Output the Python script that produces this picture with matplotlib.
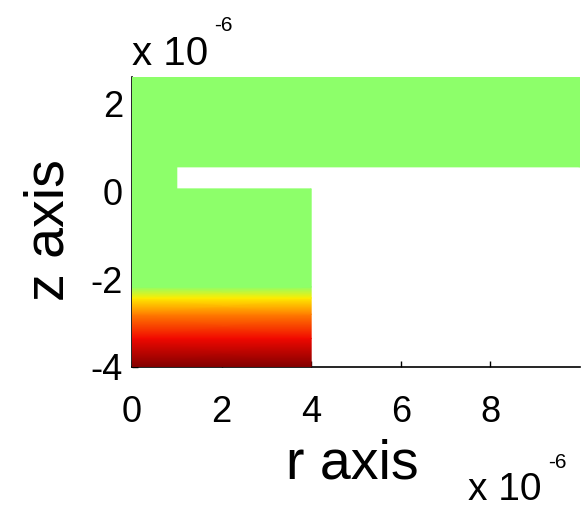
import numpy as np
import matplotlib
matplotlib.use("Agg")
import matplotlib.pyplot as plt

plt.rcParams['font.family'] = ['Liberation Sans', 'DejaVu Sans']

# ---- data (lengths in micrometres, i.e. x 10^-6 m) ----
# temperature-like profile along z in the lower block (normalised colour value)
z_profile = [-4.0, -3.35, -2.8, -2.43, -2.18, 0.05]
t_profile = [1.0, 0.9, 0.775, 0.66, 0.52, 0.52]
t_ambient = 0.52

# geometry of the domain
lower_block_r = [0.0, 4.0]        # r-extent of lower block
lower_block_z = [-4.0, 0.05]
column_r = [0.0, 1.0]             # thin column joining block and top band
column_z = [0.05, 0.55]
top_band_r = [0.0, 10.0]
top_band_z = [0.55, 2.6]

x_ticks = [0, 2, 4, 6, 8]
y_ticks = [-4, -2, 0, 2]

# ---- figure ----
W, H = 582, 513
fig = plt.figure(figsize=(W / 100, H / 100), dpi=100)
ax = fig.add_axes([132 / W, 146 / H, (580 - 132) / W, (367 - 76.7) / H])

cmap = plt.get_cmap('jet')
norm = plt.Normalize(0, 1)

# lower block with vertical gradient
R, Z = np.meshgrid(lower_block_r, z_profile)
T = np.tile(np.array(t_profile)[:, None], (1, len(lower_block_r)))
ax.pcolormesh(R, Z, T, shading='gouraud', cmap=cmap, norm=norm, zorder=3)

# column and top band (uniform)
for rr, zz in [(column_r, column_z), (top_band_r, top_band_z)]:
    R2, Z2 = np.meshgrid(rr, zz)
    ax.pcolormesh(R2, Z2, np.full(R2.shape, t_ambient), shading='gouraud',
                  cmap=cmap, norm=norm, zorder=3)

ax.set_xlim(0, 10)
ax.set_ylim(-4, 2.6)
ax.set_xticks(x_ticks)
ax.set_yticks(y_ticks)
ax.set_xticklabels([str(v) for v in x_ticks])
ax.set_yticklabels([str(v) for v in y_ticks])
ax.tick_params(direction='in', length=4, width=1, labelsize=26)
ax.tick_params(axis='y', pad=6.5)
ax.tick_params(axis='x', pad=20.5)
for s in ['top', 'right']:
    ax.spines[s].set_visible(False)
ax.spines['bottom'].set_linewidth(1.2)
ax.spines['left'].set_linewidth(1.2)
ax.set_facecolor('white')

ax.set_xlabel('r axis', fontsize=40)
ax.set_ylabel('z axis', fontsize=40)
ax.xaxis.set_label_coords(0.491, -0.245)
ax.yaxis.set_label_coords(-0.127, 0.472)

# MATLAB-style exponent labels
fig.text(132 / W, 1 - 65 / H, 'x 10', fontsize=29, ha='left', va='baseline')
fig.text(214 / W, 1 - 31 / H, '-6', fontsize=15, ha='left', va='baseline')
fig.text(468 / W, 1 - 500 / H, 'x 10', fontsize=28, ha='left', va='baseline')
fig.text(548 / W, 1 - 468 / H, '-6', fontsize=15, ha='left', va='baseline')

fig.savefig('out.png', dpi=100)
